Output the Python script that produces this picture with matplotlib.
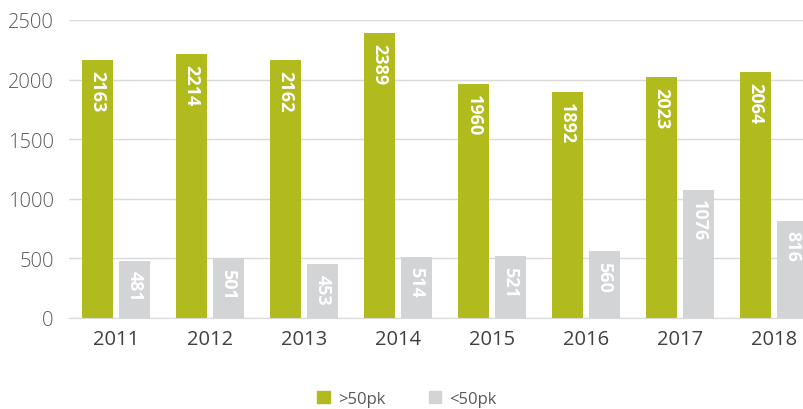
import matplotlib
matplotlib.use("Agg")
import matplotlib.pyplot as plt
from matplotlib.patches import Patch
import numpy as np

years = ["2011", "2012", "2013", "2014", "2015", "2016", "2017", "2018"]
over50 = [2163, 2214, 2162, 2389, 1960, 1892, 2023, 2064]
under50 = [481, 501, 453, 514, 521, 560, 1076, 816]
series_names = [">50pk", "<50pk"]

green = "#b2bb1e"
grey = "#d3d4d6"

plt.rcParams['font.family'] = ['Open Sans', 'DejaVu Sans']

fig = plt.figure(figsize=(8.04, 4.10), dpi=100)
ax = fig.add_axes([69/804, 1-319/410, 1-69/804, 298/410])

x = np.arange(len(years))
w = 0.33
off = 0.197
b1 = ax.bar(x - off, over50, w, color=green, zorder=3)
b2 = ax.bar(x + off, under50, w, color=grey, zorder=3)

for bars, vals in ((b1, over50), (b2, under50)):
    for r, v in zip(bars, vals):
        ax.annotate(str(v), (r.get_x() + r.get_width()/2, v),
                    xytext=(0, -7), textcoords="offset points",
                    rotation=-90, ha="center", va="top",
                    color="white", fontsize=13, fontweight="bold", zorder=4)

ax.set_ylim(0, 2500)
ax.set_xlim(-0.5, 7.32)
ax.set_yticks([0, 500, 1000, 1500, 2000, 2500])
ax.set_xticks(x)
ax.set_xticklabels(years)
ax.yaxis.grid(True, color="#d9d9d9", linewidth=1, zorder=0)
for s in ["top", "right", "left"]:
    ax.spines[s].set_visible(False)
ax.spines["bottom"].set_color("#d9d9d9")
ax.tick_params(axis="both", length=0)
ax.tick_params(axis="y", labelsize=14.5, labelcolor="#595959", pad=11)
ax.tick_params(axis="x", labelsize=14.5, labelcolor="#404040", pad=8)
for t in ax.get_yticklabels():
    t.set_fontweight("light")

handles = [Patch(color=green, label=series_names[0]), Patch(color=grey, label=series_names[1])]
leg = fig.legend(handles=handles, loc="center", bbox_to_anchor=(407/804, 1-400/410),
           ncol=2, frameon=False, fontsize=12, handlelength=0.75, handleheight=0.75,
           handletextpad=0.5, columnspacing=2.6, labelcolor="#595959")

fig.savefig("out.png", dpi=100)
